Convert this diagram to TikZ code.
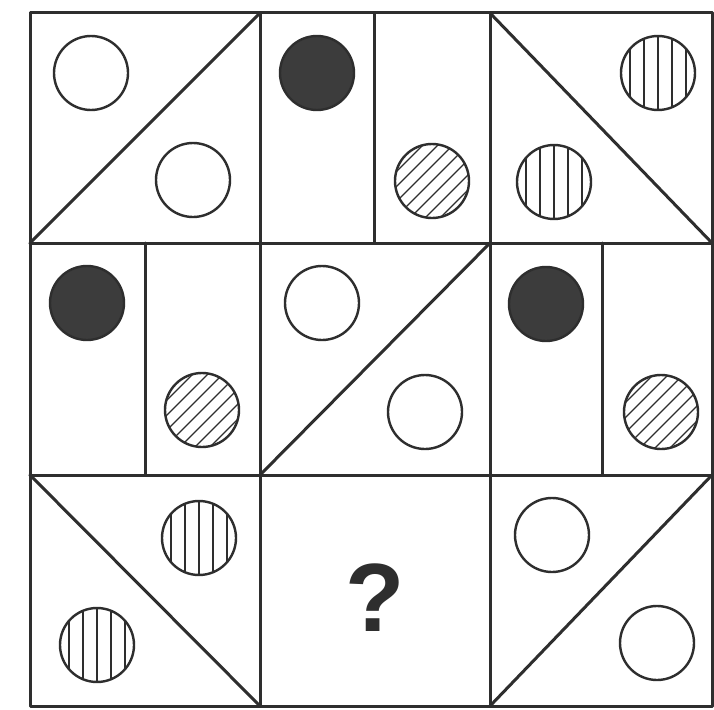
\documentclass[tikz,border=0pt]{standalone}
\usepackage{fontspec}
\setmainfont{Liberation Sans}
\definecolor{ink}{HTML}{2E2E2E}
\definecolor{dark}{HTML}{3C3C3C}
\begin{document}
\begin{tikzpicture}[x=1pt,y=-1pt,
  gridline/.style={draw=ink, line width=3pt, line cap=round, line join=round},
  ring/.style={circle, draw=ink, line width=2.4pt, minimum size=74pt, inner sep=0pt},
  white ring/.style={ring, fill=white},
  solid ring/.style={ring, fill=dark},
  vhatch ring/.style={ring, fill=white, path picture={\foreach \d in {-28,-14,0,14,28} \draw[ink, line width=1.3pt] ([xshift=\d pt]path picture bounding box.north) -- ([xshift=\d pt]path picture bounding box.south);}},
  dhatch ring/.style={ring, fill=white, path picture={\foreach \d in {-60,-45,...,60} \draw[ink, line width=1.3pt] ([xshift=\d pt]path picture bounding box.center) ++(-45pt,-45pt) -- ++(90pt,90pt);}},
  qmark/.style={font=\fontsize{97}{97}\selectfont\bfseries, text=ink, inner sep=0pt}
]
\useasboundingbox (0,0) rectangle (714,709);
\fill[white] (0,0) rectangle (714,709);
% outer frame and grid
\draw[gridline] (30,13) rectangle (712,706);
\draw[gridline] (260,13) -- (260,706);
\draw[gridline] (490,13) -- (490,706);
\draw[gridline] (30,243) -- (712,243);
\draw[gridline] (30,475) -- (712,475);
% cell dividers
\draw[gridline] (30,243) -- (260,13);
\draw[gridline] (374,13) -- (374,243);
\draw[gridline] (490,13) -- (712,243);
\draw[gridline] (145,243) -- (145,475);
\draw[gridline] (260,475) -- (490,243);
\draw[gridline] (602,243) -- (602,475);
\draw[gridline] (30,475) -- (260,706);
\draw[gridline] (490,706) -- (712,475);
% row 1
\node[white ring] (a1) at (91,73) {};
\node[white ring] (a2) at (193,180) {};
\node[solid ring] (b1) at (317,73) {};
\node[dhatch ring] (b2) at (432,181) {};
\node[vhatch ring] (c1) at (658,73) {};
\node[vhatch ring] (c2) at (554,182) {};
% row 2
\node[solid ring] (d1) at (87,303) {};
\node[dhatch ring] (d2) at (202,410) {};
\node[white ring] (e1) at (322,303) {};
\node[white ring] (e2) at (425,412) {};
\node[solid ring] (f1) at (546,304) {};
\node[dhatch ring] (f2) at (661,412) {};
% row 3
\node[vhatch ring] (g1) at (199,538) {};
\node[vhatch ring] (g2) at (97,645) {};
\node[qmark] (q) at (375,598) {?};
\node[white ring] (i1) at (552,535) {};
\node[white ring] (i2) at (657,643) {};
\end{tikzpicture}
\end{document}
